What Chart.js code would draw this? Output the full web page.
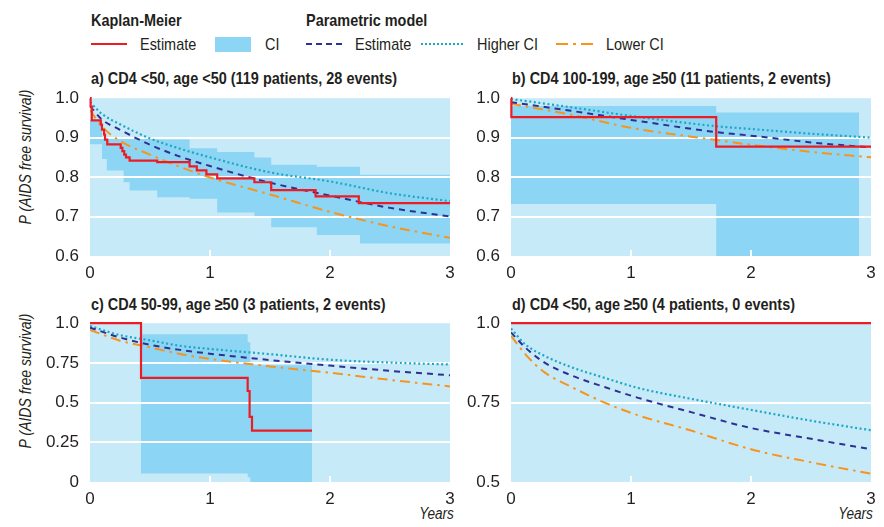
<!DOCTYPE html>
<html>
<head>
<meta charset="utf-8">
<script src="https://cdn.jsdelivr.net/npm/chart.js@4.4.1/dist/chart.umd.min.js"></script>
<style>
body{margin:0;background:#fff;width:884px;height:527px;position:relative;overflow:hidden;
  font-family:"Liberation Sans",Arial,sans-serif;color:#231f20}
.t{position:absolute;white-space:nowrap;line-height:1;transform-origin:0 0}
.leg{font-size:17px;transform:scaleX(0.85)}
.legb{font-size:17px;font-weight:bold;transform:scaleX(0.85)}
.ttl{font-weight:bold;font-size:17px;transform:scaleX(0.85)}
.ylab{font-style:italic;font-size:16px;transform-origin:50% 50%;transform:translate(-50%,-50%) rotate(-90deg) scaleX(0.88)}
.yrs{font-style:italic;font-size:16px;transform-origin:100% 0;transform:scaleX(0.85)}
.box{position:absolute}
</style>
</head>
<body>
<!-- legend -->
<div class="t legb" style="left:91px;top:12px">Kaplan-Meier</div>
<div class="t legb" style="left:306px;top:12px">Parametric model</div>
<svg class="box" style="left:0;top:30px" width="700" height="28">
  <line x1="91" y1="14" x2="127" y2="14" stroke="#ed1c24" stroke-width="2"/>
  <rect x="215" y="7" width="36" height="15" fill="#8dd5f4"/>
  <line x1="306" y1="14" x2="343" y2="14" stroke="#2e3192" stroke-width="2" stroke-dasharray="6 4"/>
  <line x1="421" y1="14" x2="464" y2="14" stroke="#1ba8c4" stroke-width="2" stroke-dasharray="2 2"/>
  <line x1="556" y1="14" x2="594" y2="14" stroke="#f7941d" stroke-width="2" stroke-dasharray="12 5 3 5"/>
</svg>
<div class="t leg" style="left:140px;top:36px">Estimate</div>
<div class="t leg" style="left:265px;top:36px">CI</div>
<div class="t leg" style="left:355px;top:36px">Estimate</div>
<div class="t leg" style="left:477px;top:36px">Higher CI</div>
<div class="t leg" style="left:606px;top:36px">Lower CI</div>

<!-- panel titles -->
<div class="t ttl" style="left:91px;top:70px">a) CD4 &lt;50, age &lt;50 (119 patients, 28 events)</div>
<div class="t ttl" style="left:512px;top:70px">b) CD4 100-199, age &ge;50 (11 patients, 2 events)</div>
<div class="t ttl" style="left:91px;top:296px">c) CD4 50-99, age &ge;50 (3 patients, 2 events)</div>
<div class="t ttl" style="left:512px;top:296px">d) CD4 &lt;50, age &ge;50 (4 patients, 0 events)</div>

<div class="t ylab" style="left:26px;top:157px">P (AIDS free survival)</div>
<div class="t ylab" style="left:26px;top:381px">P (AIDS free survival)</div>
<div class="t yrs" style="right:430px;top:506px">Years</div>
<div class="t yrs" style="right:11px;top:506px">Years</div>

<div class="box" style="left:40px;top:85px;width:420px;height:197px"><canvas id="pa"></canvas></div>
<div class="box" style="left:461px;top:85px;width:420px;height:197px"><canvas id="pb"></canvas></div>
<div class="box" style="left:40px;top:310px;width:420px;height:198px"><canvas id="pc"></canvas></div>
<div class="box" style="left:461px;top:310px;width:420px;height:198px"><canvas id="pd"></canvas></div>

<script>
// x axis
var yearTicks = [0, 1, 2, 3];

// y tick values / labels
var yTicksAB = [0.6, 0.7, 0.8, 0.9, 1.0];
var yLabelsAB = ['0.6', '0.7', '0.8', '0.9', '1.0'];
var yTicksC = [0, 0.25, 0.5, 0.75, 1.0];
var yLabelsC = ['0', '0.25', '0.5', '0.75', '1.0'];
var yTicksD = [0.5, 0.75, 1.0];
var yLabelsD = ['0.5', '0.75', '1.0'];

// a) Kaplan-Meier estimate (step changes at these times)
var kmTimeA = [0, 0.005, 0.015, 0.09, 0.10, 0.117, 0.125, 0.144, 0.256, 0.27, 0.285, 0.30, 0.33, 0.56, 0.83, 0.89, 0.97, 1.06, 1.37, 1.51, 1.88, 2.24, 3.0];
var kmSurvA = [1.0, 0.979, 0.944, 0.933, 0.92, 0.908, 0.895, 0.883, 0.874, 0.866, 0.857, 0.85, 0.842, 0.838, 0.827, 0.817, 0.807, 0.797, 0.787, 0.767, 0.751, 0.734, 0.734];
var ciTimeA = [0, 0.10, 0.14, 0.28, 0.33, 0.56, 0.83, 1.06, 1.37, 1.51, 1.89, 2.25, 3.0];
var ciHighA = [0.945, 0.90, 0.90, 0.90, 0.90, 0.895, 0.873, 0.8635, 0.85, 0.831, 0.826, 0.806, 0.806];
var ciLowA = [0.883, 0.846, 0.817, 0.787, 0.766, 0.749, 0.745, 0.71, 0.70, 0.673, 0.653, 0.632, 0.632];
// a) parametric model
var parTimeA = [0, 0.1, 0.25, 0.5, 0.75, 1.0, 1.5, 2.0, 2.5, 3.0];
var parEstA = [0.98, 0.946, 0.92, 0.882, 0.852, 0.828, 0.786, 0.753, 0.722, 0.70];
var parHighA = [0.99, 0.96, 0.934, 0.898, 0.872, 0.85, 0.812, 0.789, 0.759, 0.739];
var parLowA = [0.97, 0.928, 0.892, 0.857, 0.826, 0.799, 0.756, 0.712, 0.675, 0.646];

// b)
var kmTimeB = [0, 0.003, 1.71, 3.0];
var kmSurvB = [1.0, 0.952, 0.877, 0.877];
var ciTimeB = [0, 1.71, 2.90];
var ciHighB = [0.98, 0.964, 0.964];
var ciLowB = [0.732, 0.6, 0.6];
var parTimeB = [0, 0.5, 1.0, 1.71, 2.0, 2.5, 3.0];
var parEstB = [0.99, 0.968, 0.945, 0.914, 0.905, 0.888, 0.875];
var parHighB = [0.998, 0.977, 0.955, 0.929, 0.922, 0.91, 0.90];
var parLowB = [0.986, 0.958, 0.925, 0.894, 0.882, 0.864, 0.85];

// c)
var kmTimeC = [0, 0.425, 1.314, 1.33, 1.35, 1.85];
var kmSurvC = [1.0, 0.656, 0.573, 0.41, 0.324, 0.324];
var ciTimeC = [0.425, 1.314, 1.336, 1.85];
var ciHighC = [0.931, 0.88, 0.735, 0.735];
var ciLowC = [0.054, 0.03, 0, 0];
var parTimeC = [0, 0.25, 0.5, 0.75, 1.0, 1.5, 2.0, 2.5, 3.0];
var parEstC = [0.972, 0.91, 0.864, 0.832, 0.808, 0.768, 0.733, 0.70, 0.672];
var parHighC = [0.982, 0.925, 0.892, 0.858, 0.838, 0.805, 0.77, 0.752, 0.74];
var parLowC = [0.958, 0.89, 0.848, 0.806, 0.775, 0.728, 0.688, 0.643, 0.602];

// d)
var kmTimeD = [0, 3.0];
var kmSurvD = [1.0, 1.0];
var parTimeD = [0, 0.12, 0.28, 0.5, 0.78, 1.06, 1.5, 2.0, 2.5, 3.0];
var parEstD = [0.971, 0.923, 0.876, 0.836, 0.799, 0.765, 0.72, 0.67, 0.636, 0.603];
var parHighD = [0.983, 0.933, 0.897, 0.862, 0.828, 0.796, 0.762, 0.727, 0.693, 0.663];
var parLowD = [0.96, 0.902, 0.845, 0.80, 0.75, 0.71, 0.662, 0.603, 0.562, 0.526];

var FONT = '"Liberation Sans",Arial,sans-serif';
var INK = '#231f20';

function pts(xs, ys) {
    return xs.map(function (x, i) { return {x: x, y: ys[i]}; });
}

// light panel background + white grid drawn above the CI band
var panelPlugin = {
    id: 'panel',
    beforeDraw: function (chart) {
        var a = chart.chartArea, ctx = chart.ctx;
        ctx.save();
        ctx.fillStyle = '#c7eaf9';
        ctx.fillRect(a.left, a.top, a.right - a.left, a.bottom - a.top);
        ctx.restore();
    },
    beforeDatasetsDraw: function (chart) {
        var a = chart.chartArea, ctx = chart.ctx, x = chart.scales.x, y = chart.scales.y;
        ctx.save();
        ctx.strokeStyle = '#ffffff';
        ctx.lineWidth = 2;
        y.ticks.forEach(function (t) {
            if (t.value <= y.min || t.value >= y.max) return;
            var py = Math.round(y.getPixelForValue(t.value));
            ctx.beginPath(); ctx.moveTo(a.left, py); ctx.lineTo(a.right, py); ctx.stroke();
        });
        x.ticks.forEach(function (t) {
            if (t.value <= x.min || t.value >= x.max) return;
            var px = Math.round(x.getPixelForValue(t.value));
            ctx.beginPath(); ctx.moveTo(px, a.bottom); ctx.lineTo(px, a.bottom - 6); ctx.stroke();
        });
        ctx.restore();
    }
};

function makePanel(id, p) {
    var ds = [];
    ds.push({label: 'KM', data: pts(p.kmT, p.kmS), stepped: true, borderColor: '#ed1c24', borderWidth: 2.2, pointRadius: 0, fill: false, clip: 6});
    ds.push({label: 'Estimate', data: pts(p.parT, p.est), borderColor: '#2e3192', borderWidth: 2, borderDash: [6, 5], pointRadius: 0, cubicInterpolationMode: 'monotone', fill: false});
    ds.push({label: 'Higher CI', data: pts(p.parT, p.hi), borderColor: '#1ba8c4', borderWidth: 2.2, borderDash: [2, 2.6], pointRadius: 0, cubicInterpolationMode: 'monotone', fill: false});
    ds.push({label: 'Lower CI', data: pts(p.parT, p.lo), borderColor: '#f7941d', borderWidth: 2, borderDash: [10, 5, 2.5, 5], pointRadius: 0, cubicInterpolationMode: 'monotone', fill: false});
    if (p.ciT) {
        ds.push({label: 'CI high', data: pts(p.ciT, p.ciH), stepped: true, borderWidth: 0, borderColor: 'rgba(0,0,0,0)', backgroundColor: '#8dd5f4', pointRadius: 0, fill: '+1'});
        ds.push({label: 'CI low', data: pts(p.ciT, p.ciL), stepped: true, borderWidth: 0, borderColor: 'rgba(0,0,0,0)', pointRadius: 0, fill: false});
    }
    return new Chart(document.getElementById(id), {
        type: 'line',
        data: {datasets: ds},
        options: {
            responsive: true,
            maintainAspectRatio: false,
            animation: false,
            layout: {padding: {top: 10, right: 10, left: 0, bottom: 0}},
            plugins: {legend: {display: false}, tooltip: {enabled: false}, filler: {drawTime: 'beforeDatasetsDraw'}},
            scales: {
                x: {
                    type: 'linear', min: 0, max: 3,
                    afterBuildTicks: function (s) { s.ticks = yearTicks.map(function (v) { return {value: v}; }); },
                    afterFit: function (s) { s.height = 26; },
                    grid: {display: false}, border: {display: false},
                    ticks: {color: INK, font: {family: FONT, size: 17}, padding: -1, maxRotation: 0, autoSkip: false,
                        callback: function (v) { return String(v); }}
                },
                y: {
                    min: p.yMin, max: p.yMax,
                    afterBuildTicks: function (s) { s.ticks = p.yTicks.map(function (v) { return {value: v}; }); },
                    afterFit: function (s) { s.width = 50; },
                    grid: {display: false}, border: {display: false},
                    ticks: {color: INK, font: {family: FONT, size: 17}, padding: 3, autoSkip: false,
                        callback: function (v) { return p.yLabels[p.yTicks.indexOf(v)]; }}
                }
            }
        },
        plugins: [panelPlugin]
    });
}

makePanel('pa', {kmT: kmTimeA, kmS: kmSurvA, ciT: ciTimeA, ciH: ciHighA, ciL: ciLowA,
    parT: parTimeA, est: parEstA, hi: parHighA, lo: parLowA, yMin: 0.6, yMax: 1.0, yTicks: yTicksAB, yLabels: yLabelsAB});
makePanel('pb', {kmT: kmTimeB, kmS: kmSurvB, ciT: ciTimeB, ciH: ciHighB, ciL: ciLowB,
    parT: parTimeB, est: parEstB, hi: parHighB, lo: parLowB, yMin: 0.6, yMax: 1.0, yTicks: yTicksAB, yLabels: yLabelsAB});
makePanel('pc', {kmT: kmTimeC, kmS: kmSurvC, ciT: ciTimeC, ciH: ciHighC, ciL: ciLowC,
    parT: parTimeC, est: parEstC, hi: parHighC, lo: parLowC, yMin: 0, yMax: 1.0, yTicks: yTicksC, yLabels: yLabelsC});
makePanel('pd', {kmT: kmTimeD, kmS: kmSurvD,
    parT: parTimeD, est: parEstD, hi: parHighD, lo: parLowD, yMin: 0.5, yMax: 1.0, yTicks: yTicksD, yLabels: yLabelsD});
</script>
</body>
</html>
